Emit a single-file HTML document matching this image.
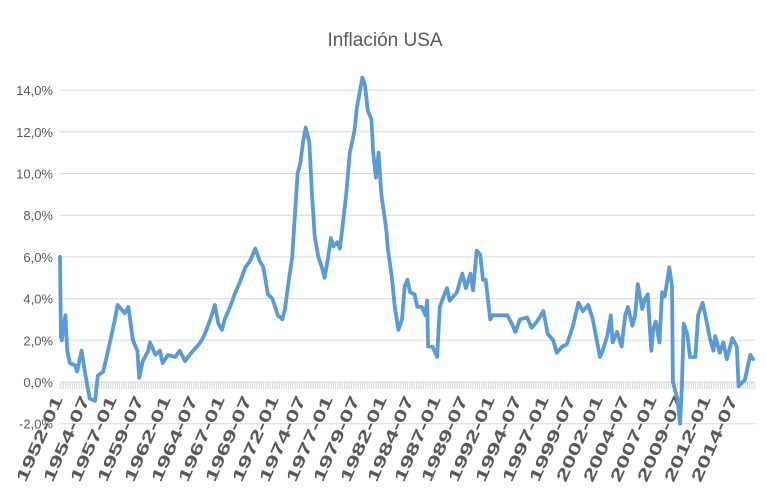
<!DOCTYPE html>
<html><head><meta charset="utf-8"><style>
body{margin:0;background:#fff;}
svg{display:block;font-family:"Liberation Sans",sans-serif;}
</style></head><body>
<svg id="chart" width="767" height="502">
<text x="385" y="46" text-anchor="middle" font-size="19" fill="#595959">Inflación USA</text>
<g id="grid"></g><g id="ticks"></g><g id="ylabels"></g><g id="xlabels"></g><g id="series"></g>
</svg>
<script>
const yTicks=[-2,0,2,4,6,8,10,12,14];
const xLabels=["1952-01","1954-07","1957-01","1959-07","1962-01","1964-07","1967-01","1969-07","1972-01","1974-07","1977-01","1979-07","1982-01","1984-07","1987-01","1989-07","1992-01","1994-07","1997-01","1999-07","2002-01","2004-07","2007-01","2009-07","2012-01","2014-07"];
const months=[0,1,2,6,8,11,17,19,24,28,33,39,42,48,56,61,64,72,76,81,86,88,92,98,100,106,111,114,120,128,133,139,144,150,156,161,167,172,176,180,183,189,194,200,206,211,217,222,226,231,236,242,247,250,253,258,261,264,267,270,273,277,280,283,287,291,294,298,301,304,308,311,314,318,322,327,330,336,339,342,346,348,351,354,357,361,363,364,369,372,376,380,383,386,389,394,397,402,406,408,409,414,419,422,428,430,433,441,447,451,456,459,463,467,470,473,478,481,489,497,502,506,511,519,524,530,537,542,548,552,558,563,567,570,576,581,587,592,600,603,608,612,614,619,624,628,631,636,639,642,647,650,653,657,659,662,666,669,672,677,680,681,686,689,691,693,697,700,706,709,714,718,722,726,728,733,737,741,747,752,754,761,767,770];
const values=[6.0,2.2,2.0,3.2,1.5,0.9,0.8,0.5,1.5,0.4,-0.8,-0.9,0.3,0.5,2.0,3.0,3.7,3.3,3.6,2.0,1.5,0.2,1.0,1.5,1.9,1.3,1.5,0.9,1.3,1.2,1.5,1.0,1.3,1.6,1.9,2.3,3.0,3.7,2.8,2.5,3.0,3.6,4.2,4.8,5.5,5.8,6.4,5.8,5.5,4.2,4.0,3.2,3.0,3.5,4.5,6.0,8.0,10.0,10.5,11.5,12.2,11.5,9.0,7.0,6.0,5.5,5.0,6.0,6.9,6.5,6.7,6.4,7.5,9.0,11.0,12.0,13.2,14.6,14.2,13.0,12.6,11.0,9.8,11.0,9.0,7.8,7.1,6.5,4.9,3.6,2.5,3.0,4.6,4.9,4.3,4.2,3.6,3.6,3.2,3.9,1.7,1.7,1.2,3.6,4.3,4.5,3.9,4.3,5.2,4.5,5.2,4.4,6.3,6.1,4.9,4.9,3.0,3.2,3.2,3.2,2.8,2.4,3.0,3.1,2.6,2.9,3.4,2.3,2.0,1.4,1.7,1.8,2.3,2.7,3.8,3.4,3.7,3.0,1.2,1.5,2.2,3.2,1.9,2.4,1.7,3.2,3.6,2.7,3.2,4.7,3.5,4.0,4.2,1.5,2.5,2.9,1.9,4.3,4.1,5.5,4.6,0.0,-0.8,-2.0,-0.2,2.8,2.3,1.2,1.2,3.2,3.8,3.0,2.1,1.5,2.2,1.4,1.9,1.1,2.1,1.7,-0.2,0.1,1.3,1.1];
const ns="http://www.w3.org/2000/svg";
const X0=60,PXM=0.9,XEND=755;
function xs(m){return X0+m*PXM;}
function ys(v){return 382-v*20.85;}
function mk(t,a,p){const e=document.createElementNS(ns,t);for(const k in a)e.setAttribute(k,a[k]);p.appendChild(e);return e;}
const grid=document.getElementById('grid'),yl=document.getElementById('ylabels');
yTicks.forEach(v=>{
  const l=mk('line',{x1:X0,x2:XEND,y1:ys(v),y2:ys(v),stroke:'#d9d9d9','stroke-width':1},grid);
  
  
  const t=mk('text',{x:53,y:ys(v)+5,'text-anchor':'end','font-size':13,fill:'#595959'},yl);
  t.textContent=v.toFixed(1).replace('.',',')+'%';
  
  
});
const tk=document.getElementById('ticks');
let d='';
for(let m=0;xs(m)<=XEND;m+=2){d+='M'+xs(m).toFixed(1)+' 382V389';}
const tp=mk('path',{d:d,stroke:'#d0d0d0','stroke-width':0.7},tk);


const xl=document.getElementById('xlabels');
xLabels.forEach((s,i)=>{
  const x=xs(i*30)+3;
  const t=mk('text',{x:x,y:399,'text-anchor':'end','font-size':16,'font-weight':'bold',fill:'#595959',textLength:92,lengthAdjust:'spacingAndGlyphs',transform:'rotate(-66 '+x+' 399)'},xl);
  t.textContent=s;
  
  
});
let pd='';
months.forEach((m,i)=>{pd+=(i?'L':'M')+xs(m).toFixed(1)+' '+ys(values[i]).toFixed(1);});
const line=mk('path',{d:pd,fill:'none',stroke:'#5b9bd5','stroke-width':3.8,'stroke-linejoin':'round','stroke-linecap':'round'},document.getElementById('series'));


</script>
</body></html>
